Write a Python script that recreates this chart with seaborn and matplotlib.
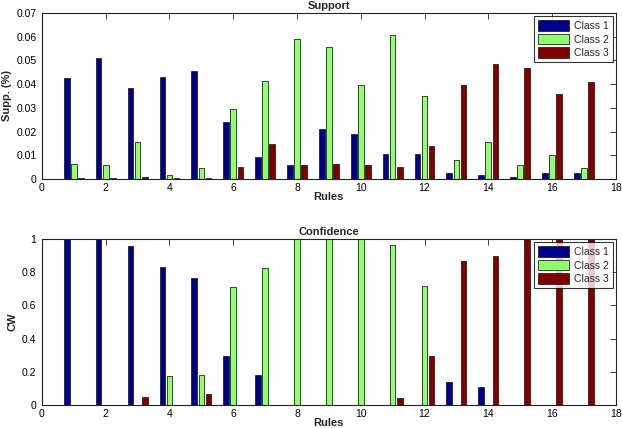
import matplotlib
matplotlib.use("Agg")
import matplotlib.pyplot as plt
import seaborn as sns
import pandas as pd

rules = list(range(1, 18))
classes = ["Class 1", "Class 2", "Class 3"]

supp_c1 = [0.0427, 0.0512, 0.0385, 0.0432, 0.0454, 0.0242, 0.0093, 0.0057, 0.0212,
           0.0190, 0.0106, 0.0106, 0.0024, 0.0017, 0.0007, 0.0027, 0.0023]
supp_c2 = [0.0063, 0.0057, 0.0157, 0.0015, 0.0048, 0.0296, 0.0415, 0.0591, 0.0555,
           0.0396, 0.0606, 0.0352, 0.0081, 0.0155, 0.0057, 0.0103, 0.0048]
supp_c3 = [0.0005, 0.0005, 0.0008, 0.0002, 0.0004, 0.0049, 0.0148, 0.0060, 0.0064,
           0.0058, 0.0052, 0.0140, 0.0397, 0.0483, 0.0470, 0.0358, 0.0407]

conf_c1 = [1.0, 1.0, 0.96, 0.83, 0.762, 0.296, 0.18, 0.0, 0.0,
           0.0, 0.0, 0.0, 0.136, 0.11, 0.0, 0.0, 0.0]
conf_c2 = [0.0, 0.0, 0.0, 0.174, 0.18, 0.71, 0.824, 1.0, 1.0,
           1.0, 0.966, 0.714, 0.0, 0.0, 0.0, 0.0, 0.0]
conf_c3 = [0.0, 0.0, 0.045, 0.0, 0.063, 0.0, 0.0, 0.0, 0.0,
           0.0, 0.04, 0.292, 0.87, 0.896, 1.0, 1.0, 1.0]

colors = ["#00008F", "#8FFF70", "#800000"]


def long_df(c1, c2, c3):
    rows = []
    for cls, vals in zip(classes, [c1, c2, c3]):
        for r, v in zip(rules, vals):
            rows.append({"rule": r, "value": v, "cls": cls})
    return pd.DataFrame(rows)


sns.set_style("white")
plt.rcParams["font.family"] = ["Liberation Sans", "DejaVu Sans"]

fig = plt.figure(figsize=(6.22, 4.28), dpi=100)
ax1 = fig.add_axes([0.0675, 0.582, 0.9225, 0.3875])
ax2 = fig.add_axes([0.0675, 0.054, 0.9225, 0.3876])


def draw(ax, df, ylim, yticks, yfmt, title, ylabel):
    sns.barplot(data=df, x="rule", y="value", hue="cls", native_scale=True,
                palette=colors, width=0.667, gap=0.2, dodge=True, ax=ax,
                edgecolor="#222222", linewidth=0.6, errorbar=None, saturation=1)
    ax.set_xlim(0, 18)
    ax.set_ylim(*ylim)
    ax.set_xticks(range(0, 19, 2))
    ax.set_yticks(yticks)
    ax.set_yticklabels([yfmt(t) for t in yticks])
    ax.tick_params(direction="in", length=4, width=0.6, labelsize=7.5, pad=4,
                   top=True, right=True, colors="#222222", labelcolor="black")
    ax.tick_params(axis="x", pad=3)
    for s in ax.spines.values():
        s.set_visible(True)
        s.set_color("#222222")
        s.set_linewidth(0.8)
    ax.set_title(title, fontsize=8, fontweight="bold", pad=3)
    ax.set_xlabel("Rules", fontsize=8, fontweight="bold", labelpad=-1)
    ax.set_ylabel(ylabel, fontsize=8, fontweight="bold", labelpad=3)
    leg = ax.legend(loc="upper right", fontsize=7.5, frameon=True, fancybox=False,
                    edgecolor="black", handlelength=3.0, handleheight=1.2,
                    borderaxespad=0.3, labelspacing=0.25, handletextpad=0.4,
                    borderpad=0.4)
    leg.get_frame().set_linewidth(0.8)
    leg.set_title(None)


draw(ax1, long_df(supp_c1, supp_c2, supp_c3), (0, 0.07),
     [0, 0.01, 0.02, 0.03, 0.04, 0.05, 0.06, 0.07],
     lambda t: "0" if t == 0 else f"{t:.2f}", "Support", "Supp. (%)")
draw(ax2, long_df(conf_c1, conf_c2, conf_c3), (0, 1),
     [0, 0.2, 0.4, 0.6, 0.8, 1.0],
     lambda t: "0" if t == 0 else ("1" if t == 1 else f"{t:.1f}"), "Confidence", "CW")

fig.savefig("out.png", dpi=100)
